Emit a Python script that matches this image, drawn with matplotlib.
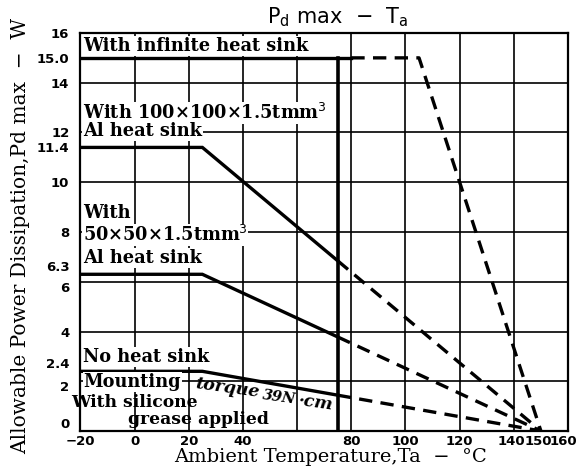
import matplotlib
matplotlib.use("Agg")
import matplotlib.pyplot as plt
from matplotlib.transforms import ScaledTranslation

# ---- data ----
ta_knee = 25          # derating start (°C)
tj_max = 150          # zero-power temperature (°C)
solid_end = 75        # solid/dashed boundary (°C)
inf_knee = 105        # infinite heat sink derating start
inf_solid_end = 80
pd_infinite = 15.0
pd_100 = 11.4
pd_50 = 6.3
pd_none = 2.4

xticks = [-20, 0, 20, 40, 80, 100, 120, 140, 150, 160]
xticklabels = ["−20", "0", "20", "40", "80", "100", "120", "140", "150", "160"]
yticks = [0, 2, 2.4, 4, 6, 6.3, 8, 10, 11.4, 12, 14, 15.0, 16]
yticklabels = ["0", "2", "2.4", "4", "6", "6.3", "8", "10", "11.4", "12", "14", "15.0", "16"]
xgrid = [0, 20, 40, 60, 80, 100, 120, 140]
ygrid = [2, 4, 6, 8, 10, 12, 14]

fig = plt.figure(figsize=(5.77, 4.76), dpi=100)
ax = fig.add_axes([0.1395, 0.0945, 0.8449, 0.8362])
ax.set_xlim(-20, 160)
ax.set_ylim(0, 16)

for g in xgrid:
    ax.axvline(g, color="black", lw=1.2, zorder=1)
for g in ygrid:
    ax.axhline(g, color="black", lw=1.2, zorder=1)
for s in ax.spines.values():
    s.set_linewidth(1.6)

lw = 2.4
dash = (4, 2.5)

def derate(pd, knee):
    val_at_end = pd * (tj_max - solid_end) / (tj_max - knee)
    ax.plot([-20, knee, solid_end], [pd, pd, val_at_end], color="black", lw=lw,
            solid_joinstyle="miter", zorder=3)
    ax.plot([solid_end, tj_max], [val_at_end, 0], color="black", lw=lw,
            dashes=dash, zorder=3)

ax.plot([-20, inf_solid_end], [pd_infinite, pd_infinite], color="black", lw=lw, zorder=3)
ax.plot([inf_solid_end, inf_knee, tj_max], [pd_infinite, pd_infinite, 0], color="black",
        lw=lw, dashes=dash, zorder=3)
derate(pd_100, ta_knee)
derate(pd_50, ta_knee)
derate(pd_none, ta_knee)

ax.plot([solid_end, solid_end], [0, pd_infinite], color="black", lw=2.6, zorder=3)

ax.set_xticks(xticks)
ax.set_xticklabels(xticklabels)
ax.set_yticks(yticks)
ax.set_yticklabels(yticklabels)
ax.tick_params(axis="y", length=0, pad=8)
ax.tick_params(axis="x", length=0, pad=3)
for lab in ax.get_xticklabels() + ax.get_yticklabels():
    lab.set_fontweight("bold")
    lab.set_fontsize(9.5)
    lab.set_fontfamily("DejaVu Sans")

ylabs = ax.get_yticklabels()
for lab, v in zip(ylabs, yticks):
    if v in (2.4, 6.3):
        lab.set_va("bottom")
    elif v in (2, 6):
        lab.set_va("top")
    elif v == 0:
        lab.set_va("bottom")

xlabs = ax.get_xticklabels()
shifts = {150: -3, 160: -5, 140: -2}
for lab, v in zip(xlabs, xticks):
    if v in shifts:
        lab.set_transform(lab.get_transform() +
                          ScaledTranslation(shifts[v] / 100, 0, fig.dpi_scale_trans))

serif = "DejaVu Serif"
box = dict(facecolor="white", edgecolor="none", pad=0.6)
tk = dict(fontfamily=serif, fontsize=12.8, fontweight="bold", color="black",
          va="center", ha="left", zorder=5, bbox=box)

ax.text(-19.2, 15.48, "With infinite heat sink", **tk)
ax.text(-19.2, 12.8, "With 100×100×1.5tmm$^3$", **tk)
ax.text(-19.2, 12.05, "Al heat sink", **tk)
ax.text(-19.2, 8.75, "With", **tk)
ax.text(-19.2, 7.87, "50×50×1.5tmm$^3$", **tk)
ax.text(-19.2, 6.95, "Al heat sink", **tk)
ax.text(-19.2, 2.97, "No heat sink", **tk)
ax.text(-18.8, 1.97, "Mounting", **tk)
tk2 = dict(fontfamily=serif, fontsize=12.3, fontweight="bold", color="black",
           va="center", ha="left", zorder=5)
ax.text(-23.3, 1.14, "With silicone", clip_on=False, **tk2)
ax.text(-2.6, 0.45, "grease applied", **tk2)

tq = dict(fontfamily=serif, fontweight="bold", color="black", va="center",
          ha="left", zorder=5, fontstyle="italic", rotation=-8)
ax.text(21.8, 1.72, "torque", fontsize=12.5, **tq)
ax.text(47.0, 1.37, "39N", fontsize=10.5, **tq)
ax.text(60.0, 1.12, "·cm", fontsize=12.5, **tq)

fig.text(0.585, 0.964, r"P$_\mathrm{d}$ max  −  T$_\mathrm{a}$", fontsize=15,
         ha="center", va="center", fontfamily="DejaVu Sans")
fig.text(0.036, 0.505, "Allowable Power Dissipation,Pd max  −  W", rotation=90,
         fontsize=14.5, fontfamily=serif, ha="center", va="center")
fig.text(0.572, 0.04, "Ambient Temperature,Ta  −  °C", fontsize=14,
         fontfamily=serif, ha="center", va="center")

fig.savefig("out.png", dpi=100)
